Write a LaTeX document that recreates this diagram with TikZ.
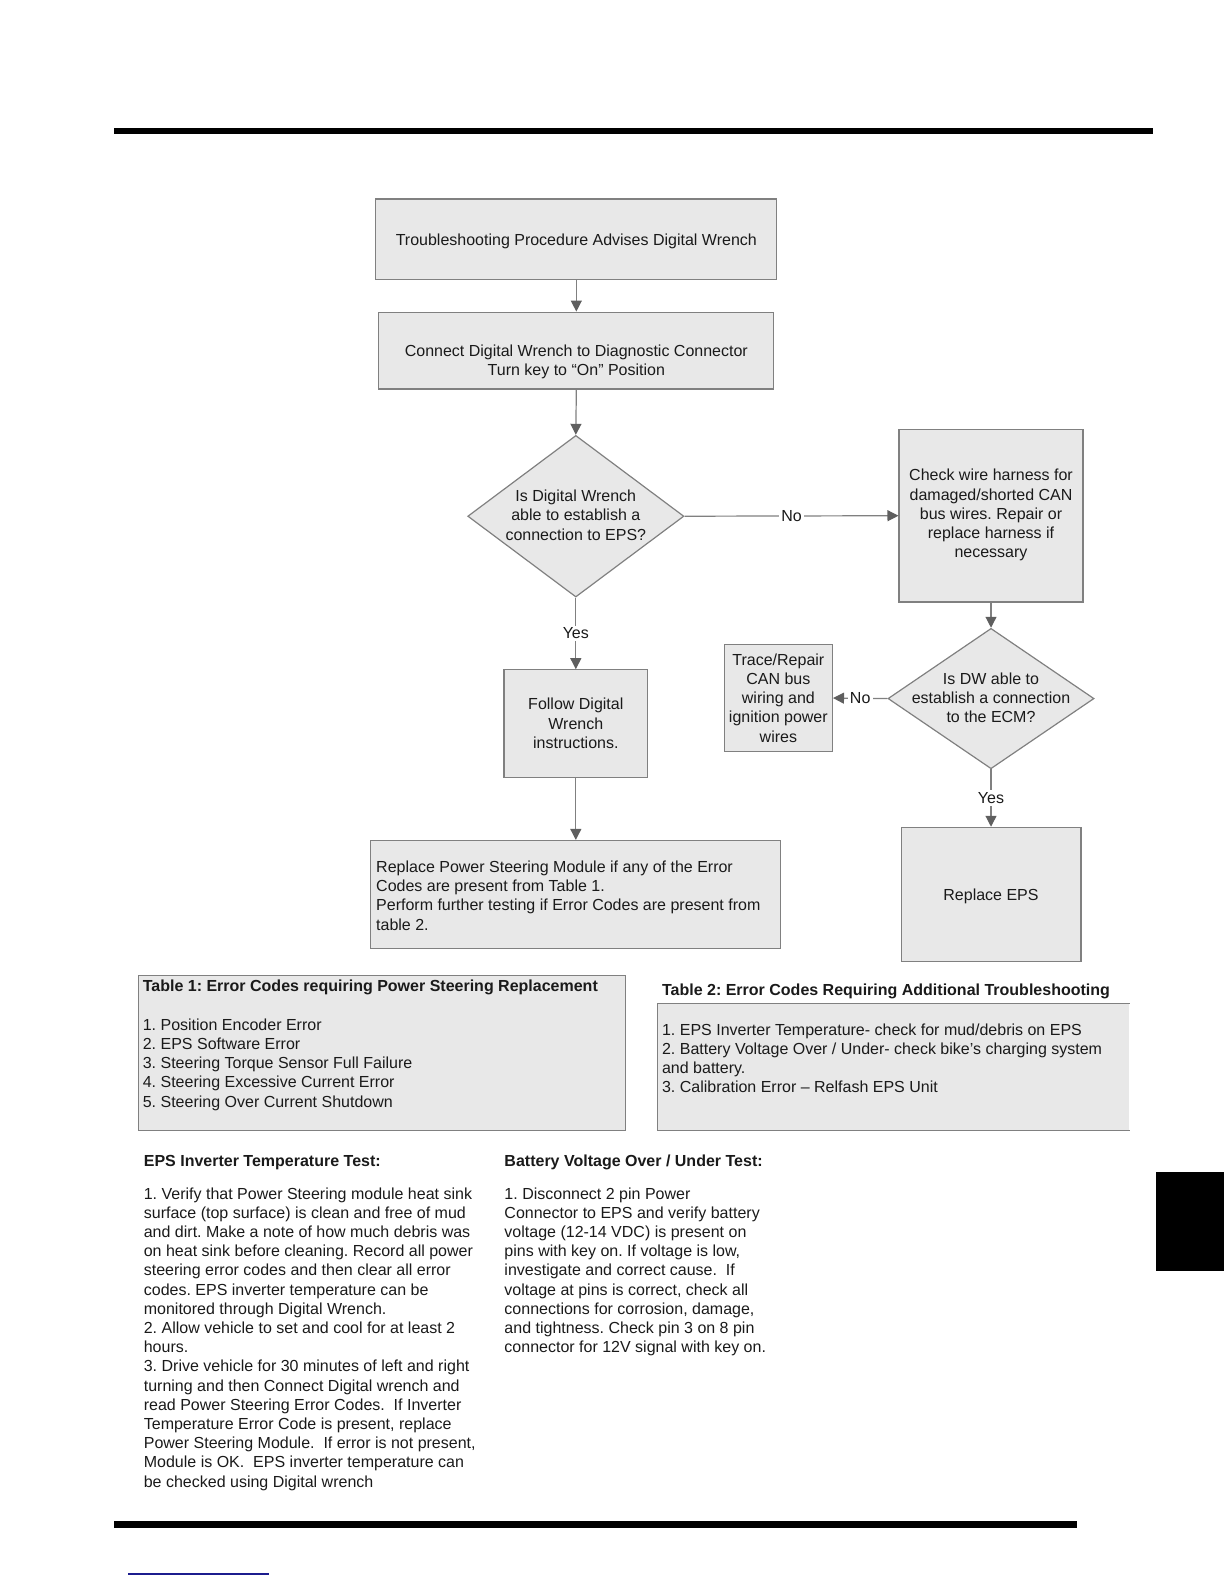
\documentclass[tikz,border=0pt]{standalone}
\usepackage{fontspec}
\setmainfont{Liberation Sans}
\frenchspacing
\usetikzlibrary{shapes.geometric,arrows.meta}
\definecolor{boxfill}{HTML}{E8E8E8}
\definecolor{boxline}{HTML}{808080}
\definecolor{arrowgray}{HTML}{5F5F5F}
\definecolor{linkblue}{HTML}{1C1C8E}
\definecolor{inkc}{HTML}{1A1A1A}
\tikzset{
  box/.style={draw=boxline, fill=boxfill, line width=0.6pt, align=center},
  dia/.style={diamond, draw=boxline, fill=boxfill, line width=0.6pt},
  txt/.style={align=center},
  ltxt/.style={align=left},
  arr/.style={draw=boxline, line width=0.6pt, -{Triangle[length=5.5pt,width=5.5pt,fill=arrowgray,color=arrowgray]}},
  plain/.style={draw=boxline, line width=0.6pt},
  lbl/.style={fill=white, inner xsep=1.2pt, inner ysep=1pt},
}
\begin{document}
\begin{tikzpicture}[x=0.505pt,y=-0.505pt,
  every node/.style={font=\fontsize{8}{9.6}\selectfont, text=inkc, inner sep=0pt}]
\useasboundingbox (0,0) rectangle (1212,1568);

% page furniture
\fill[black] (113,127) rectangle (1141,133);
\fill[black] (113,1506) rectangle (1066,1513);
\fill[black] (1144,1160) rectangle (1212,1258);
\draw[linkblue, line width=0.8pt] (127,1558) -- (266,1558);

% flowchart
\node[box, minimum width=397*0.505pt, minimum height=80*0.505pt] (A) at (570.5,237) {};
\node[txt] (At) at (570.5,238.5) {Troubleshooting Procedure Advises Digital Wrench};
\node[box, minimum width=391*0.505pt, minimum height=76*0.505pt] (B) at (570.5,347) {};
\node[txt] (Bt) at (570.5,358) {Connect Digital Wrench to Diagnostic Connector\\Turn key to “On” Position};
\node[dia, minimum width=214*0.505pt, minimum height=160*0.505pt] (C) at (570,511) {};
\node[txt] (Ct) at (570,510) {Is Digital Wrench\\able to establish a\\connection to EPS?};
\node[box, minimum width=182*0.505pt, minimum height=171*0.505pt] (D) at (981,510.5) {};
\node[txt] (Dt) at (981,510) {Check wire harness for\\damaged/shorted CAN\\bus wires. Repair or\\replace harness if\\necessary};
\node[dia, minimum width=204*0.505pt, minimum height=139*0.505pt] (E) at (981,691.5) {};
\node[txt] (Et) at (981,691) {Is DW able to\\establish a connection\\to the ECM?};
\node[box, minimum width=107*0.505pt, minimum height=106*0.505pt] (F) at (770.5,691) {};
\node[txt] (Ft) at (770.5,691) {Trace/Repair\\CAN bus\\wiring and\\ignition power\\wires};
\node[box, minimum width=178*0.505pt, minimum height=133*0.505pt] (G) at (981,885.5) {};
\node[txt] (Gt) at (981,887) {Replace EPS};
\node[box, minimum width=142*0.505pt, minimum height=107*0.505pt] (H) at (570,716.5) {};
\node[txt] (Ht) at (570,716) {Follow Digital\\Wrench\\instructions.};
\node[box, minimum width=406*0.505pt, minimum height=107*0.505pt] (I) at (570,885.5) {};
\node[ltxt, anchor=west] (It) at (372,886.5) {Replace Power Steering Module if any of the Error\\Codes are present from Table 1.\\Perform further testing if Error Codes are present from\\table 2.};

\draw[arr] (A.south) -- (B.north);
\draw[arr] (B.south) -- (C.north);
\draw[arr] (C.east) -- node[lbl] (no1) {No} (D.west);
\draw[arr] (D.south) -- (E.north);
\draw[arr] (E.west) -- node[lbl] (no2) {No} (F.east);
\draw[arr] (E.south) -- node[lbl] (yes2) {Yes} (G.north);
\draw[arr] (C.south) -- node[lbl] (yes1) {Yes} (H.north);
\draw[arr] (H.south) -- (I.north);

% table 1
\node[box, minimum width=482*0.505pt, minimum height=153*0.505pt] (T1) at (378,1042.5) {};
\node[ltxt, anchor=north west] (T1t) at (141,970) {\textbf{Table 1: Error Codes requiring Power Steering Replacement}\\\mbox{}\\1. Position Encoder Error\\2. EPS Software Error\\3. Steering Torque Sensor Full Failure\\4. Steering Excessive Current Error\\5. Steering Over Current Shutdown};

% table 2
\node[fill=boxfill, minimum width=467*0.505pt, minimum height=125*0.505pt] (T2) at (884.5,1056.5) {};
\draw[plain] (T2.north east) -- (T2.north west) -- (T2.south west) -- (T2.south east);
\node[anchor=west] (T2h) at (655,981) {\textbf{Table 2: Error Codes Requiring Additional Troubleshooting}};
\node[ltxt, anchor=north west] (T2t) at (655,1013) {1. EPS Inverter Temperature- check for mud/debris on EPS\\2. Battery Voltage Over / Under- check bike’s charging system\\and battery.\\3. Calibration Error – Relfash EPS Unit};

% tests
\node[anchor=west] (P1h) at (142,1151) {\textbf{EPS Inverter Temperature Test:}};
\node[ltxt, anchor=north west] (P1) at (142,1175) {1. Verify that Power Steering module heat sink\\surface (top surface) is clean and free of mud\\and dirt. Make a note of how much debris was\\on heat sink before cleaning. Record all power\\steering error codes and then clear all error\\codes. EPS inverter temperature can be\\monitored through Digital Wrench.\\2. Allow vehicle to set and cool for at least 2\\hours.\\3. Drive vehicle for 30 minutes of left and right\\turning and then Connect Digital wrench and\\read Power Steering Error Codes.\ \ If Inverter\\Temperature Error Code is present, replace\\Power Steering Module.\ \ If error is not present,\\Module is OK.\ \ EPS inverter temperature can\\be checked using Digital wrench};
\node[anchor=west] (P2h) at (499,1151) {\textbf{Battery Voltage Over / Under Test:}};
\node[ltxt, anchor=north west] (P2) at (499,1175) {1. Disconnect 2 pin Power\\Connector to EPS and verify battery\\voltage (12-14 VDC) is present on\\pins with key on. If voltage is low,\\investigate and correct cause.\ \ If\\voltage at pins is correct, check all\\connections for corrosion, damage,\\and tightness. Check pin 3 on 8 pin\\connector for 12V signal with key on.};
\end{tikzpicture}
\end{document}
